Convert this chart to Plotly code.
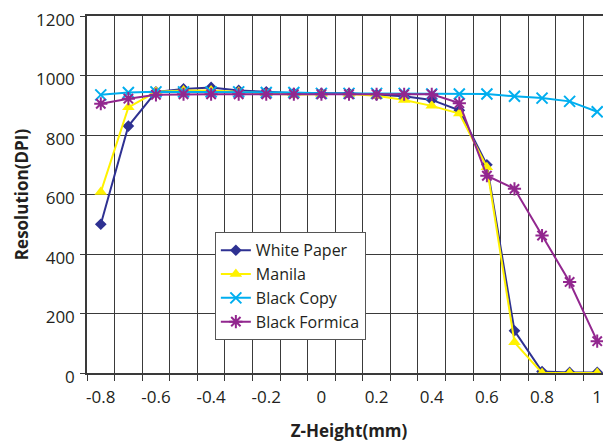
import plotly.graph_objects as go

z_height = [-0.8, -0.7, -0.6, -0.5, -0.4, -0.3, -0.2, -0.1, 0.0, 0.1,
            0.2, 0.3, 0.4, 0.5, 0.6, 0.7, 0.8, 0.9, 1.0]
white_paper = [500, 830, 945, 955, 960, 950, 945, 940, 940, 940,
               935, 930, 918, 883, 700, 142, 5, 2, 2]
manila = [608, 893, 945, 950, 950, 945, 940, 935, 938, 938,
          932, 918, 898, 872, 692, 103, 0, 0, 0]
black_copy = [935, 943, 945, 945, 945, 945, 943, 943, 940, 940,
              940, 940, 938, 938, 938, 930, 924, 913, 878]
black_formica = [905, 922, 935, 937, 937, 937, 937, 937, 937, 937,
                 937, 937, 937, 907, 663, 619, 462, 306, 107]
x_tick_vals = [-0.8, -0.6, -0.4, -0.2, 0, 0.2, 0.4, 0.6, 0.8, 1]
x_tick_text = ["-0.8", "-0.6", "-0.4", "-0.2", "0", "0.2", "0.4", "0.6", "0.8", "1"]

FONT = "Open Sans"
TXT = "#231F20"
GRID = "#3a3a3a"

series = [
    ("White Paper", white_paper, "#2E3192", dict(symbol="diamond", size=9)),
    ("Manila", manila, "#FFF200", dict(symbol="triangle-up", size=11)),
    ("Black Copy", black_copy, "#00AEEF", dict(symbol="x-thin-open", size=11, line=dict(width=2, color="#00AEEF"))),
    ("Black Formica", black_formica, "#92278F", dict(symbol="asterisk-open", size=11, line=dict(width=2, color="#92278F"))),
]

fig = go.Figure()
for name, vals, color, mk in series:
    marker = dict(color=color, **mk)
    fig.add_trace(go.Scatter(x=z_height, y=vals, name=name, mode="lines+markers",
                             line=dict(color=color, width=2), marker=marker))

grid_x = [round(-0.85 + 0.1 * i, 2) for i in range(20)]

fig.update_layout(
    width=603, height=435,
    margin=dict(l=79, r=0, t=8, b=70),
    paper_bgcolor="white", plot_bgcolor="white",
    font=dict(family=FONT, size=17, color=TXT),
    showlegend=True,
    legend=dict(x=0.244, y=0.394, xanchor="left", yanchor="top",
                bgcolor="white", bordercolor="#555555", borderwidth=1,
                font=dict(family=FONT, size=16, color=TXT),
                tracegroupgap=0, itemwidth=30),
    xaxis=dict(range=[-0.85, 1.05], tickmode="array", tickvals=x_tick_vals,
               ticktext=x_tick_text, ticks="", showgrid=False, zeroline=False,
               showline=True, linecolor=GRID, linewidth=1.5, mirror=True,
               ticklabelstandoff=8, ticklabeloverflow="allow",
               minor=dict(tickmode="array", tickvals=grid_x, ticks="outside",
                          ticklen=6, tickcolor=GRID, showgrid=True,
                          gridcolor=GRID, gridwidth=1.2),
               title=dict(text="<b>Z-Height(mm)</b>", font=dict(size=17), standoff=18),
               tickfont=dict(size=17), automargin=False),
    yaxis=dict(range=[0, 1200], dtick=200, tick0=0, ticks="outside", ticklen=5,
               tickcolor=GRID, showgrid=True, gridcolor=GRID, gridwidth=1.2,
               zeroline=False, showline=True, linecolor=GRID, linewidth=1.5,
               ticklabeloverflow="allow", ticklabelshift=4, ticklabelstandoff=2,
               title=dict(text="<b>Resolution(DPI)</b>", font=dict(size=17), standoff=3),
               tickfont=dict(size=17), automargin=False),
)

fig.write_html("out.html")
